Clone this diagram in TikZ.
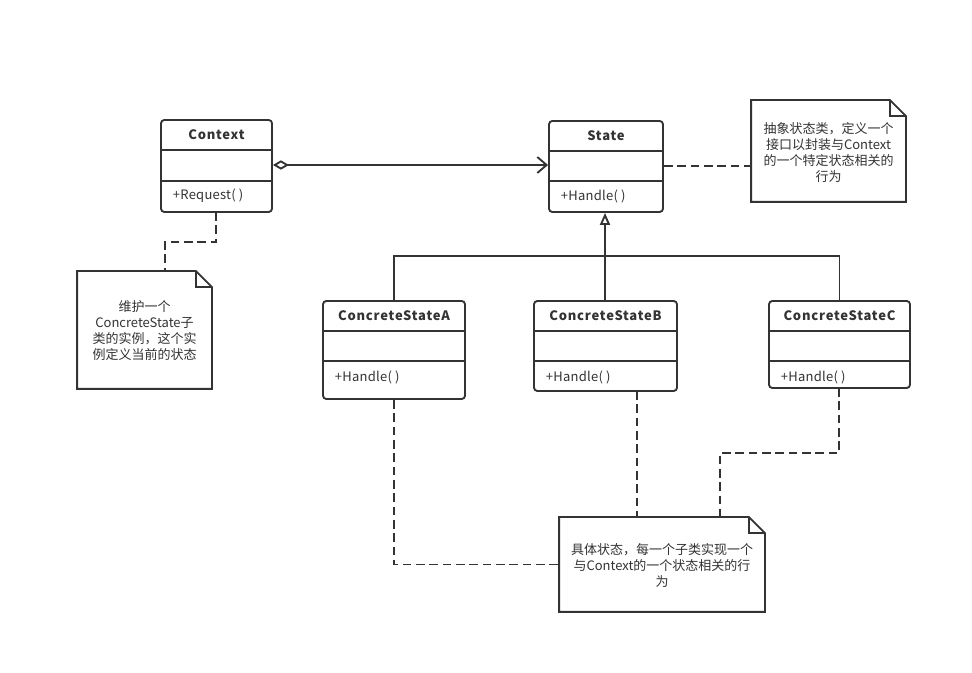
\documentclass[tikz,border=0pt]{standalone}
\usepackage{fontspec}
\setmainfont{Noto Sans CJK SC}
\newfontfamily\titlefont[LetterSpace=6]{Noto Sans CJK SC}
\newfontfamily\methfont[LetterSpace=2]{Noto Sans CJK SC}
\usetikzlibrary{arrows.meta,calc,fit}
\definecolor{ink}{HTML}{333333}
\begin{document}
\begin{tikzpicture}[x=0.75pt,y=-0.75pt,line width=1.4pt,
  cls/.style={draw=ink,rounded corners=2.5pt,inner sep=0pt},
  ctitle/.style={font=\titlefont\bfseries\fontsize{9.75}{12}\selectfont,text=ink},
  cmeth/.style={font=\methfont\fontsize{9.75}{12}\selectfont,text=ink,anchor=west,inner sep=0pt},
  notearea/.style={inner sep=0pt},
  notetext/.style={font=\fontsize{9.75}{12}\selectfont,text=ink,align=center,inner sep=0pt},
  dashline/.style={draw=ink,dash pattern=on 6.5pt off 3.5pt},
  solidline/.style={draw=ink}]
\useasboundingbox (0,0) rectangle (972,673);
\fill[white] (0,0) rectangle (972,673);

% ---- classes ----
\node[cls,fit={(161,120) (272,212)}] (ctx) {};
\draw[ink] (161,150) -- (272,150) (161,181) -- (272,181);
\node[ctitle] (ctxt) at (216.5,135) {Context};
\node[cmeth] (ctxm) at (172,196) {+Request( )};

\node[cls,fit={(549,121) (663,212)}] (st) {};
\draw[ink] (549,151) -- (663,151) (549,181) -- (663,181);
\node[ctitle] (stt) at (606,136) {State};
\node[cmeth] (stm) at (560,196) {+Handle( )};

\node[cls,fit={(323,301) (465,399)}] (ca) {};
\draw[ink] (323,331) -- (465,331) (323,361) -- (465,361);
\node[ctitle] (cat) at (394,316) {ConcreteStateA};
\node[cmeth] (cam) at (334,377) {+Handle( )};

\node[cls,fit={(534,301) (677,391)}] (cb) {};
\draw[ink] (534,331) -- (677,331) (534,361) -- (677,361);
\node[ctitle] (cbt) at (605.5,316) {ConcreteStateB};
\node[cmeth] (cbm) at (545,377) {+Handle( )};

\node[cls,fit={(769,301) (910,388)}] (cc) {};
\draw[ink] (769,331) -- (910,331) (769,361) -- (910,361);
\node[ctitle] (cct) at (839.5,316) {ConcreteStateC};
\node[cmeth] (ccm) at (780,377) {+Handle( )};

% ---- notes ----
\node[notearea,fit={(752,101) (905,201)}] (n1) {};
\draw[ink,line join=miter] (n1.north west) -- ($(n1.north east)+(-16,0)$) -- ($(n1.north east)+(0,16)$) -- (n1.south east) -- (n1.south west) -- cycle;
\draw[ink] ($(n1.north east)+(-16,0)$) -- ++(0,16) -- ++(16,0);
\node[notetext] (n1t) at ($(n1.center)+(0,2)$) {抽象状态类，定义一个\\接口以封装与Context\\的一个特定状态相关的\\行为};

\node[notearea,fit={(78,272) (211,388)}] (n2) {};
\draw[ink,line join=miter] (n2.north west) -- ($(n2.north east)+(-16,0)$) -- ($(n2.north east)+(0,16)$) -- (n2.south east) -- (n2.south west) -- cycle;
\draw[ink] ($(n2.north east)+(-16,0)$) -- ++(0,16) -- ++(16,0);
\node[notetext] (n2t) at ($(n2.center)+(0,1)$) {维护一个\\ConcreteState子\\类的实例，这个实\\例定义当前的状态};

\node[notearea,fit={(560,518) (764,611)}] (n3) {};
\draw[ink,line join=miter] (n3.north west) -- ($(n3.north east)+(-16,0)$) -- ($(n3.north east)+(0,16)$) -- (n3.south east) -- (n3.south west) -- cycle;
\draw[ink] ($(n3.north east)+(-16,0)$) -- ++(0,16) -- ++(16,0);
\node[notetext] (n3t) at ($(n3.center)+(0,1)$) {具体状态，每一个子类实现一个\\与Context的一个状态相关的行\\为};

% ---- connectors ----
\draw[solidline,{Diamond[open,fill=white,length=12pt,width=7pt]}-{Straight Barb[length=7pt,width=12pt]}]
  (ctx.east |- 0,165) -- (st.west |- 0,165);
\draw[dashline] (st.east |- 0,166) -- (n1.west |- 0,166);

\coordinate (cdn) at (216,212);
\draw[dashline] (cdn) -- (216,242) -- (165,242) -- (165,272);

\coordinate (bar) at (605,256);
\draw[solidline,-{Triangle[open,fill=white,length=9pt,width=7.5pt]}] (bar) -- (st.south -| bar);
\draw[solidline] (ca.north) |- (bar) -| (cc.north);
\draw[solidline] (cb.north -| bar) -- (bar);

\draw[dashline] (ca.south) |- (n3.west);
\draw[dashline] (637,391) -- (637,518);
\draw[dashline] (839,388) -- (839,453) -- (720,453) -- (720,518);
\end{tikzpicture}
\end{document}
